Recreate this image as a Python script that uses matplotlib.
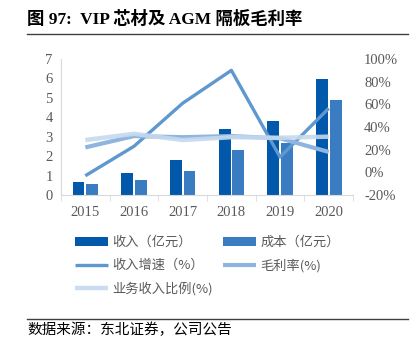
import numpy as np
import matplotlib.pyplot as plt
from matplotlib.lines import Line2D

years = ["2015", "2016", "2017", "2018", "2019", "2020"]
revenue = [0.68, 1.12, 1.80, 3.38, 3.83, 5.96]          # 收入（亿元）
cost = [0.55, 0.75, 1.22, 2.30, 2.70, 4.90]             # 成本（亿元）
growth = [-3.0, 23.0, 61.0, 90.0, 13.5, 56.5]           # 收入增速（%）
margin = [22.0, 32.0, 31.0, 32.0, 30.0, 18.0]           # 毛利率(%)
share = [28.5, 34.0, 28.5, 31.0, 30.5, 31.5]            # 业务收入比例(%)

cjk = ['Noto Sans CJK SC', 'DejaVu Sans']
serif = ['Liberation Serif', 'Noto Sans CJK SC']
grey = '#595959'

fig = plt.figure(figsize=(4.12, 3.51), dpi=100)
ax = fig.add_axes([0.148, 0.4444, 0.709, 0.3875])
ax2 = ax.twinx()

x = np.arange(len(years))
b1 = ax.bar(x - 0.14, revenue, width=0.245, color='#0258AA', zorder=2)
b2 = ax.bar(x + 0.14, cost, width=0.245, color='#3A7CC2', zorder=2)

l1, = ax2.plot(x, growth, color='#5F98CF', lw=2.4, solid_capstyle='butt')
l2, = ax2.plot(x, margin, color='#8DB5DF', lw=3.0, solid_capstyle='butt')
l3, = ax2.plot(x, share, color='#C5D9EE', lw=3.2, solid_capstyle='butt', alpha=0.9)

ax.set_xlim(-0.5, 5.5)
ax.set_ylim(0, 7)
ax.set_yticks(range(8))
ax2.set_ylim(-20, 100)
ax2.set_yticks(range(-20, 101, 20))
ax2.set_yticklabels([f"{v}%" for v in range(-20, 101, 20)])

ax.set_xticks(x)
ax.set_xticklabels(years)
ax.set_xticks(np.arange(-0.5, 6, 1), minor=True)
ax.tick_params(axis='x', which='major', length=0, pad=8)
ax.tick_params(axis='x', which='minor', length=4, color='#D9D9D9')
ax.tick_params(axis='y', length=0, pad=6)
ax2.tick_params(axis='y', length=0, pad=8)

for a in (ax, ax2):
    for s in a.spines.values():
        s.set_visible(False)
    for lab in a.get_xticklabels() + a.get_yticklabels():
        lab.set_family(serif)
        lab.set_fontsize(10.5)
        lab.set_color(grey)
ax.spines['bottom'].set_visible(True)
ax.spines['bottom'].set_color('#D9D9D9')
ax.spines['left'].set_visible(True)
ax.spines['left'].set_color('#D9D9D9')

handles = [b1, l1, l3, b2, l2]
labels = ["收入（亿元）", "收入增速（%）", "业务收入比例(%)", "成本（亿元）", "毛利率(%)"]
leg = fig.legend(handles, labels, ncol=2, loc='upper left',
                 bbox_to_anchor=(0.182, 0.327), frameon=False,
                 prop={'family': cjk, 'size': 9.5}, handlelength=2.5,
                 handletextpad=0.3, labelspacing=0.75, columnspacing=0.8,
                 borderaxespad=0, borderpad=0)
for t in leg.get_texts():
    t.set_color(grey)

fig.text(0.066, 0.945, "图 97:  VIP 芯材及 AGM 隔板毛利率", family=serif,
         fontsize=12.5, fontweight='bold', va='center')
fig.add_artist(Line2D([0.066, 0.99], [0.903, 0.903], color='#404040', lw=1))
fig.add_artist(Line2D([0.066, 0.99], [0.091, 0.091], color='#404040', lw=1))
fig.text(0.066, 0.06, "数据来源：东北证券，公司公告", family=cjk,
         fontsize=10.5, va='center')

fig.savefig("out.png", dpi=100)
